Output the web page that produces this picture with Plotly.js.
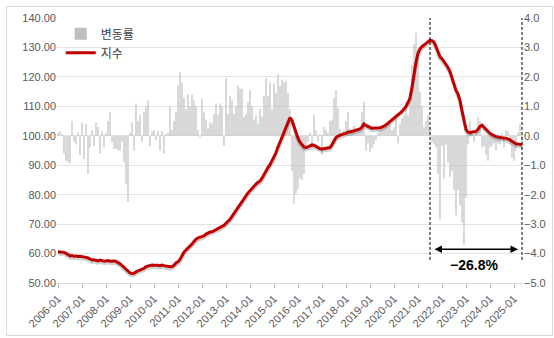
<!DOCTYPE html>
<html>
<head>
<meta charset="utf-8">
<script src="https://cdn.plot.ly/plotly-3.0.1.min.js"></script>
<style>
html,body{margin:0;padding:0;background:#fff;}
#chart{width:554px;height:338px;position:absolute;left:0;top:0;}
#frame{position:absolute;left:6px;top:6px;width:545px;height:328px;border:1px solid #d9d9d9;pointer-events:none;}
</style>
</head>
<body>
<div id="chart"></div>
<div id="frame"></div>
<script>
// ---- data ----
const startYear = 2006;
const startMonth = 1;

// 지수 (index, left axis), monthly 2006-01 .. 2025-05
const indexValues = [
  60.6, 60.6, 60.5, 60.4, 60.1, 59.5, 59.2, 59.3, 59.1, 59.2, 59.0, 59.1,
  59.0, 59.0, 58.7, 58.5, 58.0, 57.8, 57.9, 57.6, 57.5, 57.8, 57.5, 57.4,
  57.5, 57.6, 57.4, 57.5, 57.5, 57.3, 57.0, 56.5, 56.0, 55.3, 54.6, 53.8,
  53.4, 53.2, 53.3, 53.8, 54.1, 54.3, 54.6, 55.0, 55.6, 55.8, 56.0, 56.1,
  56.0, 56.1, 56.0, 55.9, 56.1, 55.9, 55.7, 55.6, 55.5, 55.6, 56.0, 56.8,
  57.2, 58.0, 59.3, 60.5, 61.2, 61.8, 62.3, 63.2, 64.1, 64.9, 65.3, 65.5,
  65.8, 66.0, 66.6, 67.0, 67.3, 67.4, 67.8, 68.2, 68.6, 68.8, 69.3, 69.6,
  70.3, 70.8, 71.6, 72.6, 73.6, 74.6, 75.6, 76.7, 77.8, 78.9, 79.9, 80.6,
  81.3, 82.2, 83.1, 83.6, 84.2, 84.6, 85.6, 86.9, 88.0, 89.2, 90.2, 91.4,
  92.9, 94.3, 96.2, 97.8, 99.3, 100.8, 102.5, 104.3, 106.2, 105.2, 103.0, 101.0,
  99.2, 97.8, 96.8, 96.2, 96.0, 96.2, 96.6, 96.9, 96.8, 96.4, 96.0, 95.6,
  95.5, 95.6, 95.8, 95.7, 96.0, 97.0, 98.3, 99.4, 99.9, 100.2, 100.4, 100.7,
  100.8, 101.3, 101.3, 101.5, 101.6, 101.8, 102.0, 102.3, 103.0, 104.0, 103.5, 103.1,
  102.8, 102.5, 102.6, 102.5, 102.6, 102.7, 102.9, 103.3, 103.7, 104.2, 104.8, 105.4,
  106.0, 106.6, 107.3, 107.7, 108.3, 109.0, 110.0, 111.3, 112.8, 116.5, 121.0, 125.0,
  128.0, 129.5, 130.3, 130.8, 131.3, 131.8, 132.4, 132.3, 131.8, 130.3, 128.5, 126.8,
  126.2, 125.3, 124.2, 123.2, 121.8, 119.8, 117.4, 115.4, 114.2, 112.0, 108.5, 104.8,
  102.2, 101.2, 101.0, 101.3, 101.5, 101.5, 102.2, 103.2, 103.6, 102.9, 102.2, 101.4,
  100.8, 100.4, 100.0, 99.7, 99.6, 99.4, 99.4, 99.2, 99.2, 99.0, 98.6, 98.1,
  97.6, 97.3, 97.2, 97.0, 96.9
];

// 변동률 (monthly change, %, right axis)
const changeRates = [
  0.1, 0.15, 0.05, -0.6, -0.85, -0.9, -0.95, 0.5, -0.2, -0.3, 0.1, -0.65,
  0.45, -0.8, 0.4, -1.3, -0.4, 0.2, -0.35, 0.45, 0.3, -0.6, 0.15, -0.4,
  0.1, 0.5, 0.8, -0.2, -0.45, -0.45, -0.5, -0.5, -0.2, -0.9, -1.65, -2.25,
  0.1, 0.45, -0.5, 1.1, 0.5, 0.7, -0.2, 0.8, 1.0, 1.2, -0.35, 0.15,
  0.2, -0.15, 0.15, -0.5, 0.15, -0.6, 0.05, 0.1, 1.0, 0.2, 0.5, 0.8,
  1.7, 2.15, 1.8, 1.3, 0.9, 1.4, 1.0, 1.4, 1.2, 1.0, 0.2, -0.05,
  1.25, 0.8, 0.55, 0.25, 0.45, 0.42, 0.75, 1.1, 0.7, 1.1, 1.0, -0.35,
  1.95, 0.75, 1.35, 1.2, 0.75, 1.0, 1.7, 1.6, 1.6, 0.65, 0.75, 1.15,
  1.55, 1.0, 0.55, 0.7, 0.42, 0.9, 0.65, 1.35, 1.95, 1.35, 1.8, 0.9,
  1.77, 1.45, 2.1, 1.7, 1.9, 1.8, 1.85, 1.45, 0.9, -1.2, -2.3, -1.95,
  -1.8, -1.45, -1.5, -1.3, -0.42, -0.2, 0.1, -0.3, 0.7, 0.2, -0.2, 0.05,
  -0.65, 0.3, 0.2, 0.1, 0.5, 0.55, 1.28, 1.55, 0.95, 0.25, 0.1, 0.2,
  0.5, 0.8, 0.25, 0.15, 0.35, 0.15, 0.2, 0.25, 0.8, 1.15, -0.5, -0.25,
  -0.55, -0.42, -0.3, -0.15, 0.1, 0.2, 0.25, 0.25, 0.35, 0.4, 0.43, 0.2,
  0.3, 0.65, -0.25, 0.4, 0.6, 0.7, 1.15, 0.7, 1.28, 2.4, 3.1, 3.5,
  2.9, 1.5, 1.0, 0.3, 0.5, 0.7, 0.3, -0.2, -0.3, -0.4, -1.3, -2.85,
  -0.35, -1.45, -0.3, -0.9, -1.4, -1.2, -1.85, -2.7, -1.85, -2.35, -2.95, -3.7,
  -2.1, -0.3, 0.5, 0.15, -0.2, 0.15, 0.65, 0.5, -0.4, -0.35, -0.65, -0.85,
  -0.4, -0.35, -0.25, -0.5, -0.25, -0.3, 0.1, -0.4, 0.2, 0.15, -0.3, -0.75,
  -0.85, -0.5, 0.1, 0.4, -0.5
];

const seriesNames = ['변동률', '지수'];

// month labels
const months = indexValues.map((_, i) => {
  const t = (startMonth - 1) + i;
  const y = startYear + Math.floor(t / 12);
  const m = (t % 12) + 1;
  return y + '-' + (m < 10 ? '0' + m : '' + m);
});
const yearTicks = months.filter(s => s.endsWith('-01'));

// peak and last
let peakIdx = 0;
indexValues.forEach((v, i) => { if (v > indexValues[peakIdx]) peakIdx = i; });
const lastIdx = indexValues.length - 1;
const pct = (indexValues[lastIdx] / indexValues[peakIdx] - 1) * 100;
const pctText = (pct < 0 ? '\u2212' : '') + Math.abs(pct).toFixed(1) + '%';

const numFont = {family: 'Liberation Sans, Arial, sans-serif', size: 11, color: '#595959'};

const traces = [
  {
    type: 'bar', x: months, y: changeRates, name: seriesNames[0],
    xaxis: 'x', yaxis: 'y', legendgroup: 'a',
    marker: {color: '#BFBFBF'}, hoverinfo: 'x+y'
  },
  {
    type: 'scatter', mode: 'lines', x: months, y: indexValues,
    xaxis: 'x', yaxis: 'y2', showlegend: false, hoverinfo: 'skip',
    line: {color: 'rgba(0,0,0,0.18)', width: 3.5}
  },
  {
    type: 'scatter', mode: 'lines', x: months, y: indexValues, name: seriesNames[1],
    xaxis: 'x', yaxis: 'y3', legendgroup: 'b',
    line: {color: '#C00000', width: 3}
  }
];

const n = months.length;
const layout = {
  width: 554, height: 338,
  margin: {l: 57, r: 31, t: 18, b: 55},
  paper_bgcolor: '#fff', plot_bgcolor: '#fff',
  showlegend: true,
  bargap: 0.4,
  legend: {
    x: 0.008, y: 0.995, xanchor: 'left', yanchor: 'top',
    bgcolor: 'rgba(0,0,0,0)', itemwidth: 30, tracegroupgap: 10,
    font: {family: 'Noto Sans CJK KR, sans-serif', size: 12, color: '#404040'},
    traceorder: 'normal'
  },
  xaxis: {
    type: 'category', range: [-0.5, n - 0.5],
    tickvals: yearTicks, ticktext: yearTicks, tickangle: -45,
    ticks: 'outside', ticklen: 4, tickcolor: '#bfbfbf',
    showline: true, linecolor: '#d9d9d9', linewidth: 1,
    showgrid: false, tickfont: numFont
  },
  yaxis: {
    side: 'right', range: [-5, 4], dtick: 1, tickformat: '.1f',
    showgrid: true, gridcolor: '#e3e3e3', zeroline: false,
    tickfont: numFont, ticks: ''
  },
  yaxis2: {
    overlaying: 'y', range: [50.7, 140.7], visible: false, showgrid: false
  },
  yaxis3: {
    overlaying: 'y', side: 'left', range: [50, 140], dtick: 10, tickformat: '.2f',
    showgrid: false, zeroline: false, tickfont: numFont, ticks: ''
  },
  shapes: [
    {type: 'line', xref: 'x', yref: 'paper', x0: months[peakIdx], x1: months[peakIdx],
     y0: 0.087, y1: 1, line: {color: '#000', width: 1, dash: '3px,2px'}},
    {type: 'line', xref: 'x', yref: 'paper', x0: months[lastIdx], x1: months[lastIdx],
     y0: 0.087, y1: 1, line: {color: '#000', width: 1, dash: '3px,2px'}}
  ],
  annotations: [
    {xref: 'x', yref: 'y', axref: 'x', ayref: 'y',
     x: lastIdx - 2, y: -3.85, ax: peakIdx + 1.5, ay: -3.85,
     text: '', showarrow: true, arrowside: 'end+start', arrowhead: 2,
     arrowsize: 1, arrowwidth: 1.5, arrowcolor: '#000'},
    {xref: 'x', yref: 'y', x: (peakIdx + lastIdx) / 2 - 1, y: -4.4,
     text: '<b>' + pctText + '</b>', showarrow: false,
     font: {family: 'Liberation Sans, Arial, sans-serif', size: 14, color: '#000'}}
  ]
};

Plotly.newPlot('chart', traces, layout, {displayModeBar: false, staticPlot: true});
</script>
</body>
</html>
